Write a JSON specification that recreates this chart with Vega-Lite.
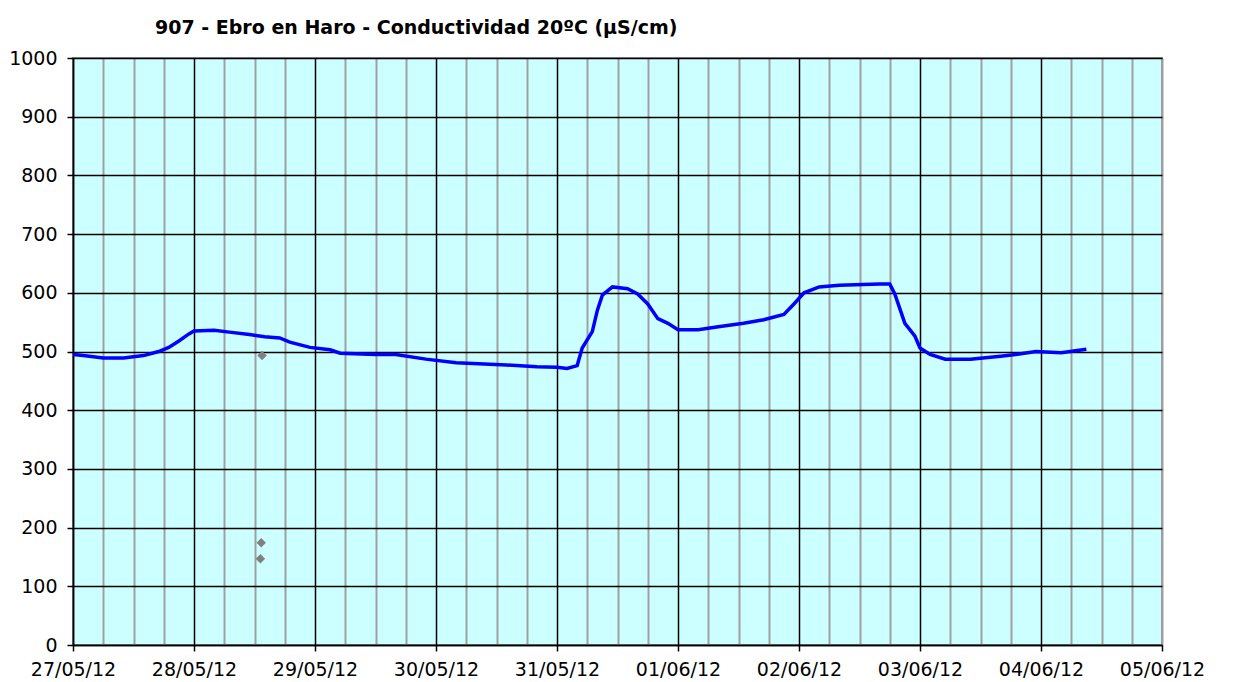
{
  "$schema": "https://vega.github.io/schema/vega-lite/v6.json",
  "autosize": {"type": "none"},
  "padding": {"left": 73, "top": 58, "right": 74, "bottom": 37},
  "width": 1089,
  "height": 587,
  "background": "white",
  "title": {
    "text": "907 - Ebro en Haro - Conductividad 20ºC (µS/cm)",
    "font": "DejaVu Sans",
    "fontSize": 19,
    "fontWeight": "bold",
    "color": "#000000",
    "anchor": "start",
    "frame": "group",
    "dx": 82,
    "offset": 11
  },
  "config": {
    "view": {"fill": "#CCFFFF", "stroke": "#999999", "strokeWidth": 2},
    "axis": {"labelFont": "DejaVu Sans", "labelFontSize": 19, "labelColor": "#000000"}
  },
  "datasets": {
    "line": [
      {"t": "2012-05-27T00:00:00Z", "v": 495},
      {"t": "2012-05-27T02:00:00Z", "v": 493},
      {"t": "2012-05-27T06:00:00Z", "v": 489},
      {"t": "2012-05-27T10:00:00Z", "v": 489},
      {"t": "2012-05-27T14:00:00Z", "v": 493},
      {"t": "2012-05-27T17:00:00Z", "v": 500},
      {"t": "2012-05-27T19:00:00Z", "v": 507},
      {"t": "2012-05-27T21:00:00Z", "v": 518},
      {"t": "2012-05-27T23:00:00Z", "v": 530},
      {"t": "2012-05-28T00:00:00Z", "v": 535},
      {"t": "2012-05-28T04:00:00Z", "v": 536},
      {"t": "2012-05-28T07:00:00Z", "v": 533},
      {"t": "2012-05-28T11:00:00Z", "v": 529},
      {"t": "2012-05-28T14:00:00Z", "v": 525},
      {"t": "2012-05-28T17:00:00Z", "v": 523},
      {"t": "2012-05-28T19:00:00Z", "v": 516},
      {"t": "2012-05-28T23:00:00Z", "v": 507},
      {"t": "2012-05-29T03:00:00Z", "v": 503},
      {"t": "2012-05-29T05:00:00Z", "v": 497},
      {"t": "2012-05-29T12:00:00Z", "v": 495},
      {"t": "2012-05-29T16:00:00Z", "v": 495},
      {"t": "2012-05-29T22:00:00Z", "v": 487},
      {"t": "2012-05-30T04:00:00Z", "v": 481},
      {"t": "2012-05-30T14:00:00Z", "v": 477},
      {"t": "2012-05-30T20:00:00Z", "v": 474},
      {"t": "2012-05-31T00:00:00Z", "v": 473},
      {"t": "2012-05-31T02:00:00Z", "v": 471},
      {"t": "2012-05-31T04:00:00Z", "v": 476},
      {"t": "2012-05-31T05:00:00Z", "v": 506},
      {"t": "2012-05-31T07:00:00Z", "v": 534},
      {"t": "2012-05-31T08:00:00Z", "v": 570},
      {"t": "2012-05-31T09:00:00Z", "v": 596},
      {"t": "2012-05-31T11:00:00Z", "v": 610},
      {"t": "2012-05-31T14:00:00Z", "v": 607},
      {"t": "2012-05-31T16:00:00Z", "v": 598},
      {"t": "2012-05-31T18:00:00Z", "v": 581},
      {"t": "2012-05-31T20:00:00Z", "v": 556},
      {"t": "2012-05-31T22:00:00Z", "v": 548},
      {"t": "2012-06-01T00:00:00Z", "v": 537},
      {"t": "2012-06-01T04:00:00Z", "v": 537},
      {"t": "2012-06-01T08:00:00Z", "v": 542},
      {"t": "2012-06-01T13:00:00Z", "v": 548},
      {"t": "2012-06-01T17:00:00Z", "v": 554},
      {"t": "2012-06-01T21:00:00Z", "v": 563},
      {"t": "2012-06-01T23:00:00Z", "v": 581},
      {"t": "2012-06-02T01:00:00Z", "v": 600},
      {"t": "2012-06-02T04:00:00Z", "v": 610},
      {"t": "2012-06-02T08:00:00Z", "v": 613},
      {"t": "2012-06-02T16:00:00Z", "v": 615},
      {"t": "2012-06-02T18:00:00Z", "v": 615},
      {"t": "2012-06-02T19:00:00Z", "v": 598},
      {"t": "2012-06-02T20:00:00Z", "v": 573},
      {"t": "2012-06-02T21:00:00Z", "v": 548},
      {"t": "2012-06-02T23:00:00Z", "v": 526},
      {"t": "2012-06-03T00:00:00Z", "v": 506},
      {"t": "2012-06-03T02:00:00Z", "v": 495},
      {"t": "2012-06-03T05:00:00Z", "v": 487},
      {"t": "2012-06-03T10:00:00Z", "v": 487},
      {"t": "2012-06-03T16:00:00Z", "v": 492},
      {"t": "2012-06-03T20:00:00Z", "v": 496},
      {"t": "2012-06-03T23:00:00Z", "v": 500},
      {"t": "2012-06-04T04:00:00Z", "v": 498},
      {"t": "2012-06-04T09:00:00Z", "v": 504}
    ],
    "pts": [
      {"t": "2012-05-28T13:30:00Z", "v": 493},
      {"t": "2012-05-28T13:20:00Z", "v": 174},
      {"t": "2012-05-28T13:10:00Z", "v": 147}
    ]
  },
  "encoding": {
    "x": {
      "field": "t",
      "type": "temporal",
      "scale": {"type": "utc", "domain": [1338076800000, 1338854400000]},
      "axis": {
        "title": null,
        "values": [1338076800000, 1338098400000, 1338120000000, 1338141600000, 1338163200000, 1338184800000, 1338206400000, 1338228000000, 1338249600000, 1338271200000, 1338292800000, 1338314400000, 1338336000000, 1338357600000, 1338379200000, 1338400800000, 1338422400000, 1338444000000, 1338465600000, 1338487200000, 1338508800000, 1338530400000, 1338552000000, 1338573600000, 1338595200000, 1338616800000, 1338638400000, 1338660000000, 1338681600000, 1338703200000, 1338724800000, 1338746400000, 1338768000000, 1338789600000, 1338811200000, 1338832800000, 1338854400000],
        "labelExpr": "utchours(datum.value) === 0 ? utcFormat(datum.value, '%d/%m/%y') : ''",
        "labelPadding": 9,
        "labelOverlap": false,
        "labelFlush": false,
        "domainColor": "#000000",
        "domainWidth": 1.5,
        "tickColor": "#000000",
        "tickSize": 6,
        "tickWidth": 1.5,
        "tickOpacity": {"condition": {"test": "utchours(datum.value) === 0", "value": 1}, "value": 0},
        "grid": true,
        "gridColor": {"condition": {"test": "utchours(datum.value) === 0 && datum.value < 1338854400000", "value": "#000000"}, "value": "#A0A0A0"},
        "gridWidth": {"condition": {"test": "utchours(datum.value) === 0 && datum.value < 1338854400000", "value": 1.5}, "value": 2},
        "gridOpacity": 1
      }
    },
    "y": {
      "field": "v",
      "type": "quantitative",
      "scale": {"domain": [0, 1000], "nice": false, "zero": true},
      "axis": {
        "title": null,
        "format": "d",
        "values": [0, 100, 200, 300, 400, 500, 600, 700, 800, 900, 1000],
        "labelPadding": 10,
        "domainColor": "#000000",
        "domainWidth": 1.5,
        "tickColor": "#000000",
        "tickSize": 6,
        "tickWidth": 1.5,
        "grid": true,
        "gridColor": "#000000",
        "gridWidth": 1.5,
        "gridOpacity": 1
      }
    }
  },
  "layer": [
    {
      "data": {"name": "line"},
      "mark": {"type": "line", "color": "#0000FF", "strokeWidth": 3.5, "clip": true}
    },
    {
      "data": {"name": "pts"},
      "mark": {"type": "point", "shape": "diamond", "filled": true, "color": "#808080", "size": 90, "opacity": 1}
    }
  ]
}
